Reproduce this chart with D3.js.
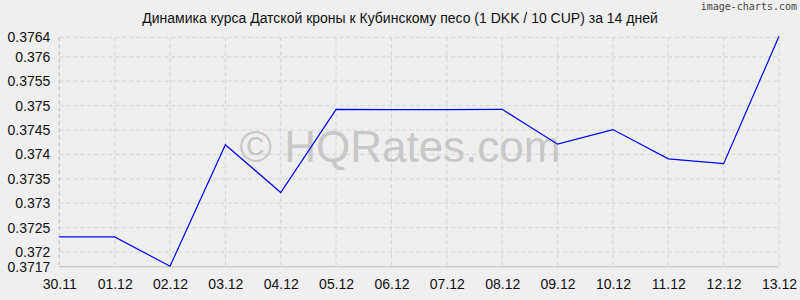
<!DOCTYPE html>
<html>
<head>
<meta charset="utf-8">
<script src="https://cdn.jsdelivr.net/npm/d3@7"></script>
<style>
  body { margin: 0; background: #efefef; }
  svg { display: block; font-family: "Liberation Sans", Arial, sans-serif; }
  .grid line { stroke: #d4d4d4; stroke-dasharray: 4,3; }
  .axis text { fill: #111; font-size: 14px; }
</style>
</head>
<body>
<svg class="chart"></svg>
<script>
//DATA
const dates = ['30.11', '01.12', '02.12', '03.12', '04.12', '05.12', '06.12',
               '07.12', '08.12', '09.12', '10.12', '11.12', '12.12', '13.12'];
const rates = [0.37231, 0.37231, 0.37171, 0.37420, 0.37322, 0.374925, 0.37492,
               0.37492, 0.374925, 0.37421, 0.37451, 0.37391, 0.37381, 0.37642];
const yTicks = [0.3717, 0.372, 0.3725, 0.373, 0.3735, 0.374, 0.3745,
                0.375, 0.3755, 0.376, 0.3764];
const title = 'Динамика курса Датской кроны к Кубинскому песо (1 DKK / 10 CUP) за 14 дней';

//CANVAS
const size = {w: 800, h: 300};
const margin = {top: 37.3, left: 59.3, bottom: 33.3, right: 21};

const svg = d3.select('svg.chart')
    .attr('width', size.w)
    .attr('height', size.h);

//SCALES
const x = d3.scalePoint()
    .domain(dates)
    .range([margin.left, size.w - margin.right]);

const y = d3.scaleLinear()
    .domain([0.3717, 0.3764])
    .range([size.h - margin.bottom, margin.top]);

//GRID
const grid = svg.append('g').attr('class', 'grid');

grid.selectAll('line.h')
    .data(yTicks)
    .enter()
    .append('line')
    .attr('class', 'h')
    .attr('x1', margin.left)
    .attr('x2', size.w - margin.right)
    .attr('y1', d => y(d))
    .attr('y2', d => y(d));

grid.selectAll('line.v')
    .data(dates)
    .enter()
    .append('line')
    .attr('class', 'v')
    .attr('x1', d => x(d))
    .attr('x2', d => x(d))
    .attr('y1', margin.top)
    .attr('y2', size.h - margin.bottom);

//AXES
svg.append('line')
    .attr('x1', margin.left)
    .attr('x2', size.w - margin.right)
    .attr('y1', y(0.3717))
    .attr('y2', y(0.3717))
    .attr('stroke', '#c4c4c4');

svg.append('line')
    .attr('x1', margin.left)
    .attr('x2', margin.left)
    .attr('y1', margin.top)
    .attr('y2', y(0.3717))
    .attr('stroke', '#c4c4c4')
    .attr('stroke-dasharray', '4,3');

const yAxis = svg.append('g')
    .attr('class', 'axis')
    .attr('transform', `translate(${margin.left}, 0)`)
    .call(d3.axisLeft(y).tickValues(yTicks).tickFormat(d => String(d)).tickSize(0).tickPadding(9));
yAxis.select('.domain').remove();

const xAxis = svg.append('g')
    .attr('class', 'axis')
    .attr('transform', `translate(0, ${size.h - margin.bottom})`)
    .call(d3.axisBottom(x).tickSize(0).tickPadding(12));
xAxis.select('.domain').remove();

svg.selectAll('.axis text').attr('font-family', null);

//WATERMARK
svg.append('text')
    .attr('x', 400)
    .attr('y', 162)
    .attr('text-anchor', 'middle')
    .attr('fill', '#c8c8c8')
    .style('font-size', '44px')
    .text('© HQRates.com');

//LINE
const line = d3.line()
    .x((d, i) => x(dates[i]))
    .y(d => y(d));

svg.append('path')
    .datum(rates)
    .attr('fill', 'none')
    .attr('stroke', '#0000ff')
    .attr('stroke-width', 1.2)
    .attr('d', line);

//TITLE
svg.append('text')
    .attr('x', 400)
    .attr('y', 23)
    .attr('text-anchor', 'middle')
    .attr('fill', '#111')
    .style('font-size', '14px')
    .text(title);

svg.append('text')
    .attr('x', 797)
    .attr('y', 10)
    .attr('text-anchor', 'end')
    .attr('fill', '#444')
    .style('font-family', '"DejaVu Sans Mono", monospace')
    .style('font-size', '10px')
    .text('image-charts.com');
</script>
</body>
</html>
